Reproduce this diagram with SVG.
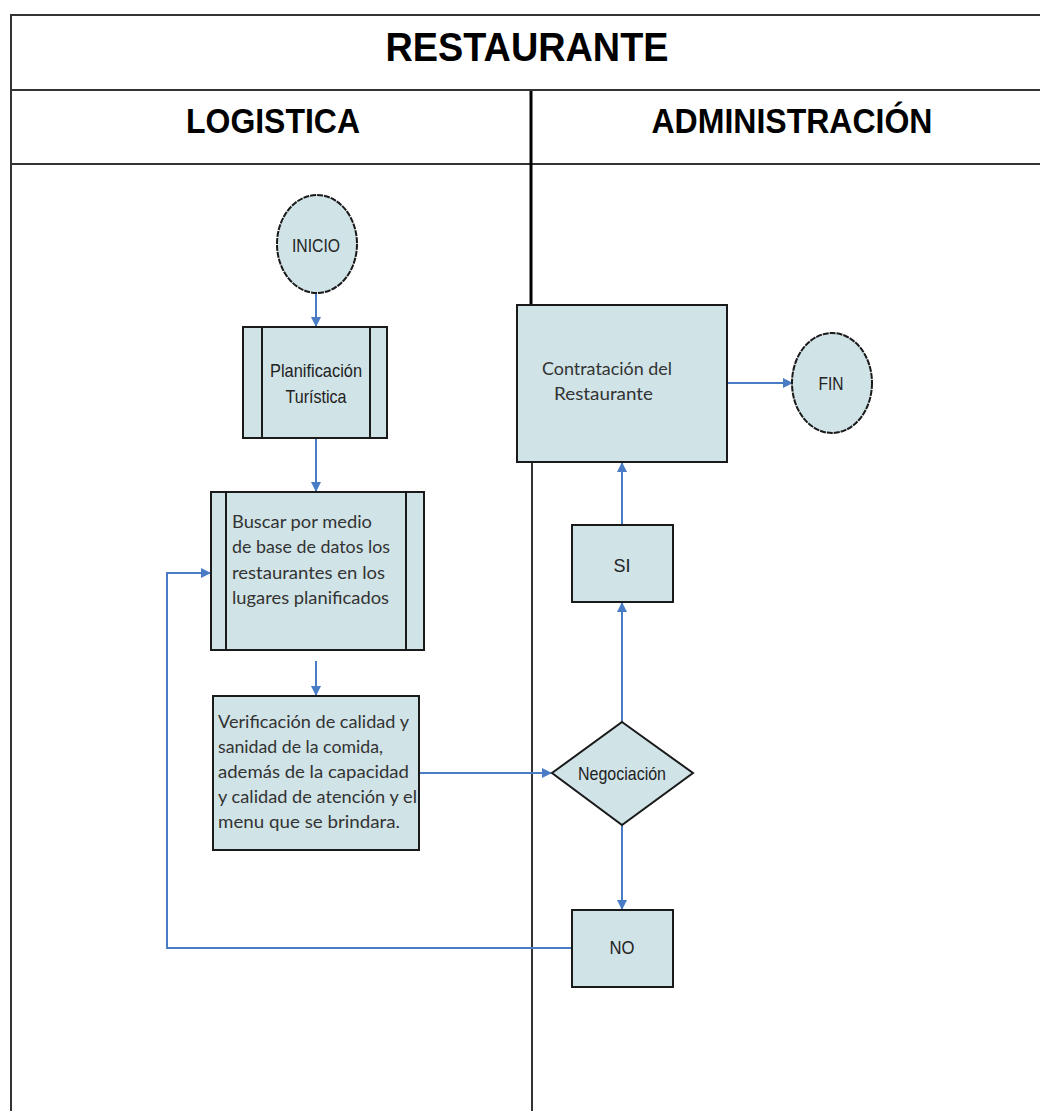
<svg xmlns="http://www.w3.org/2000/svg" width="1040" height="1111" viewBox="0 0 1040 1111">
<defs>
<marker id="arr" markerWidth="10" markerHeight="10" refX="9" refY="5" orient="auto" markerUnits="userSpaceOnUse">
<path d="M0,0 L10,5 L0,10 Z" fill="#4A7CC6"/>
</marker>
<style>
.frame{fill:none;stroke:#333;stroke-width:2}
.node{fill:#D0E3E7;stroke:#1a1a1a;stroke-width:2}
.inner{stroke:#1a1a1a;stroke-width:2}
.con{fill:none;stroke:#4A7CC6;stroke-width:2}
.h1{font-family:"Liberation Sans",Arial,sans-serif;font-weight:bold;font-size:40px;fill:#000;text-anchor:middle}
.h2{font-family:"Liberation Sans",Arial,sans-serif;font-weight:bold;font-size:35px;fill:#000;text-anchor:middle}
.lbl{font-family:"Liberation Sans",Arial,sans-serif;font-size:19px;fill:#222;text-anchor:middle}
.body{font-family:Lato,"Open Sans",sans-serif;font-size:17.5px;fill:#333}
</style>
</defs>
<g id="frame">
<path class="frame" d="M11,1111 V15 H1040"/>
<line class="frame" x1="11" y1="90" x2="1040" y2="90"/>
<line class="frame" x1="11" y1="164" x2="1040" y2="164"/>
<line x1="531" y1="91" x2="531" y2="305" stroke="#000" stroke-width="3"/>
<line x1="532" y1="462" x2="532" y2="1111" stroke="#333" stroke-width="2"/>
<text class="h1" x="527" y="61" textLength="283" lengthAdjust="spacingAndGlyphs">RESTAURANTE</text>
<text class="h2" x="273" y="133" textLength="174" lengthAdjust="spacingAndGlyphs">LOGISTICA</text>
<text class="h2" x="792" y="133" textLength="281" lengthAdjust="spacingAndGlyphs">ADMINISTRACIÓN</text>
</g>
<g id="connectors">
<line class="con" x1="316" y1="293" x2="316" y2="326" marker-end="url(#arr)"/>
<line class="con" x1="316" y1="438" x2="316" y2="491" marker-end="url(#arr)"/>
<line class="con" x1="316" y1="661" x2="316" y2="695" marker-end="url(#arr)"/>
<line class="con" x1="419" y1="773" x2="551" y2="773" marker-end="url(#arr)"/>
<line class="con" x1="622" y1="722" x2="622" y2="603" marker-end="url(#arr)"/>
<line class="con" x1="622" y1="525" x2="622" y2="463" marker-end="url(#arr)"/>
<line class="con" x1="727" y1="383" x2="792" y2="383" marker-end="url(#arr)"/>
<line class="con" x1="622" y1="825" x2="622" y2="909" marker-end="url(#arr)"/>
<path class="con" d="M572,948 H167 V573 H210" marker-end="url(#arr)"/>
</g>
<g id="inicio">
<ellipse class="node" cx="317" cy="244" rx="40" ry="49" stroke-dasharray="6 1"/>
<text class="lbl" x="316" y="252" textLength="48" lengthAdjust="spacingAndGlyphs">INICIO</text>
</g>
<g id="planificacion">
<rect class="node" x="243" y="327" width="144" height="111"/>
<line class="inner" x1="262" y1="327" x2="262" y2="438"/>
<line class="inner" x1="370" y1="327" x2="370" y2="438"/>
<text class="lbl" x="316" y="377" textLength="92" lengthAdjust="spacingAndGlyphs">Planificación</text>
<text class="lbl" x="316" y="403" textLength="61" lengthAdjust="spacingAndGlyphs">Turística</text>
</g>
<g id="buscar">
<rect class="node" x="211" y="492" width="213" height="158"/>
<line class="inner" x1="226" y1="492" x2="226" y2="650"/>
<line class="inner" x1="406" y1="492" x2="406" y2="650"/>
<text class="body" x="232" y="528" textLength="140" lengthAdjust="spacingAndGlyphs">Buscar por medio</text>
<text class="body" x="232" y="553" textLength="158" lengthAdjust="spacingAndGlyphs">de base de datos los</text>
<text class="body" x="232" y="579" textLength="153" lengthAdjust="spacingAndGlyphs">restaurantes en los</text>
<text class="body" x="232" y="604" textLength="157" lengthAdjust="spacingAndGlyphs">lugares planificados</text>
</g>
<g id="verificacion">
<rect class="node" x="213" y="696" width="206" height="154"/>
<text class="body" x="218" y="728" textLength="191" lengthAdjust="spacingAndGlyphs">Verificación de calidad y</text>
<text class="body" x="218" y="753" textLength="165" lengthAdjust="spacingAndGlyphs">sanidad de la comida,</text>
<text class="body" x="218" y="778" textLength="191" lengthAdjust="spacingAndGlyphs">además de la capacidad</text>
<text class="body" x="218" y="803" textLength="199" lengthAdjust="spacingAndGlyphs">y calidad de atención y el</text>
<text class="body" x="218" y="828" textLength="182" lengthAdjust="spacingAndGlyphs">menu que se brindara.</text>
</g>
<g id="negociacion">
<polygon class="node" points="622,722 693,773 622,825 552,773"/>
<text class="lbl" x="622" y="780" textLength="88" lengthAdjust="spacingAndGlyphs">Negociación</text>
</g>
<g id="si">
<rect class="node" x="572" y="525" width="101" height="77"/>
<text class="lbl" x="622" y="572" textLength="17" lengthAdjust="spacingAndGlyphs">SI</text>
</g>
<g id="no">
<rect class="node" x="572" y="910" width="101" height="77"/>
<text class="lbl" x="622" y="954" textLength="25" lengthAdjust="spacingAndGlyphs">NO</text>
</g>
<g id="contratacion">
<rect class="node" x="517" y="305" width="210" height="157"/>
<text class="body" x="542" y="375" textLength="130" lengthAdjust="spacingAndGlyphs">Contratación del</text>
<text class="body" x="554" y="400" textLength="99" lengthAdjust="spacingAndGlyphs">Restaurante</text>
</g>
<g id="fin">
<ellipse class="node" cx="832" cy="383" rx="40" ry="50" stroke-dasharray="6 1"/>
<text class="lbl" x="831" y="390" textLength="25" lengthAdjust="spacingAndGlyphs">FIN</text>
</g>
</svg>
